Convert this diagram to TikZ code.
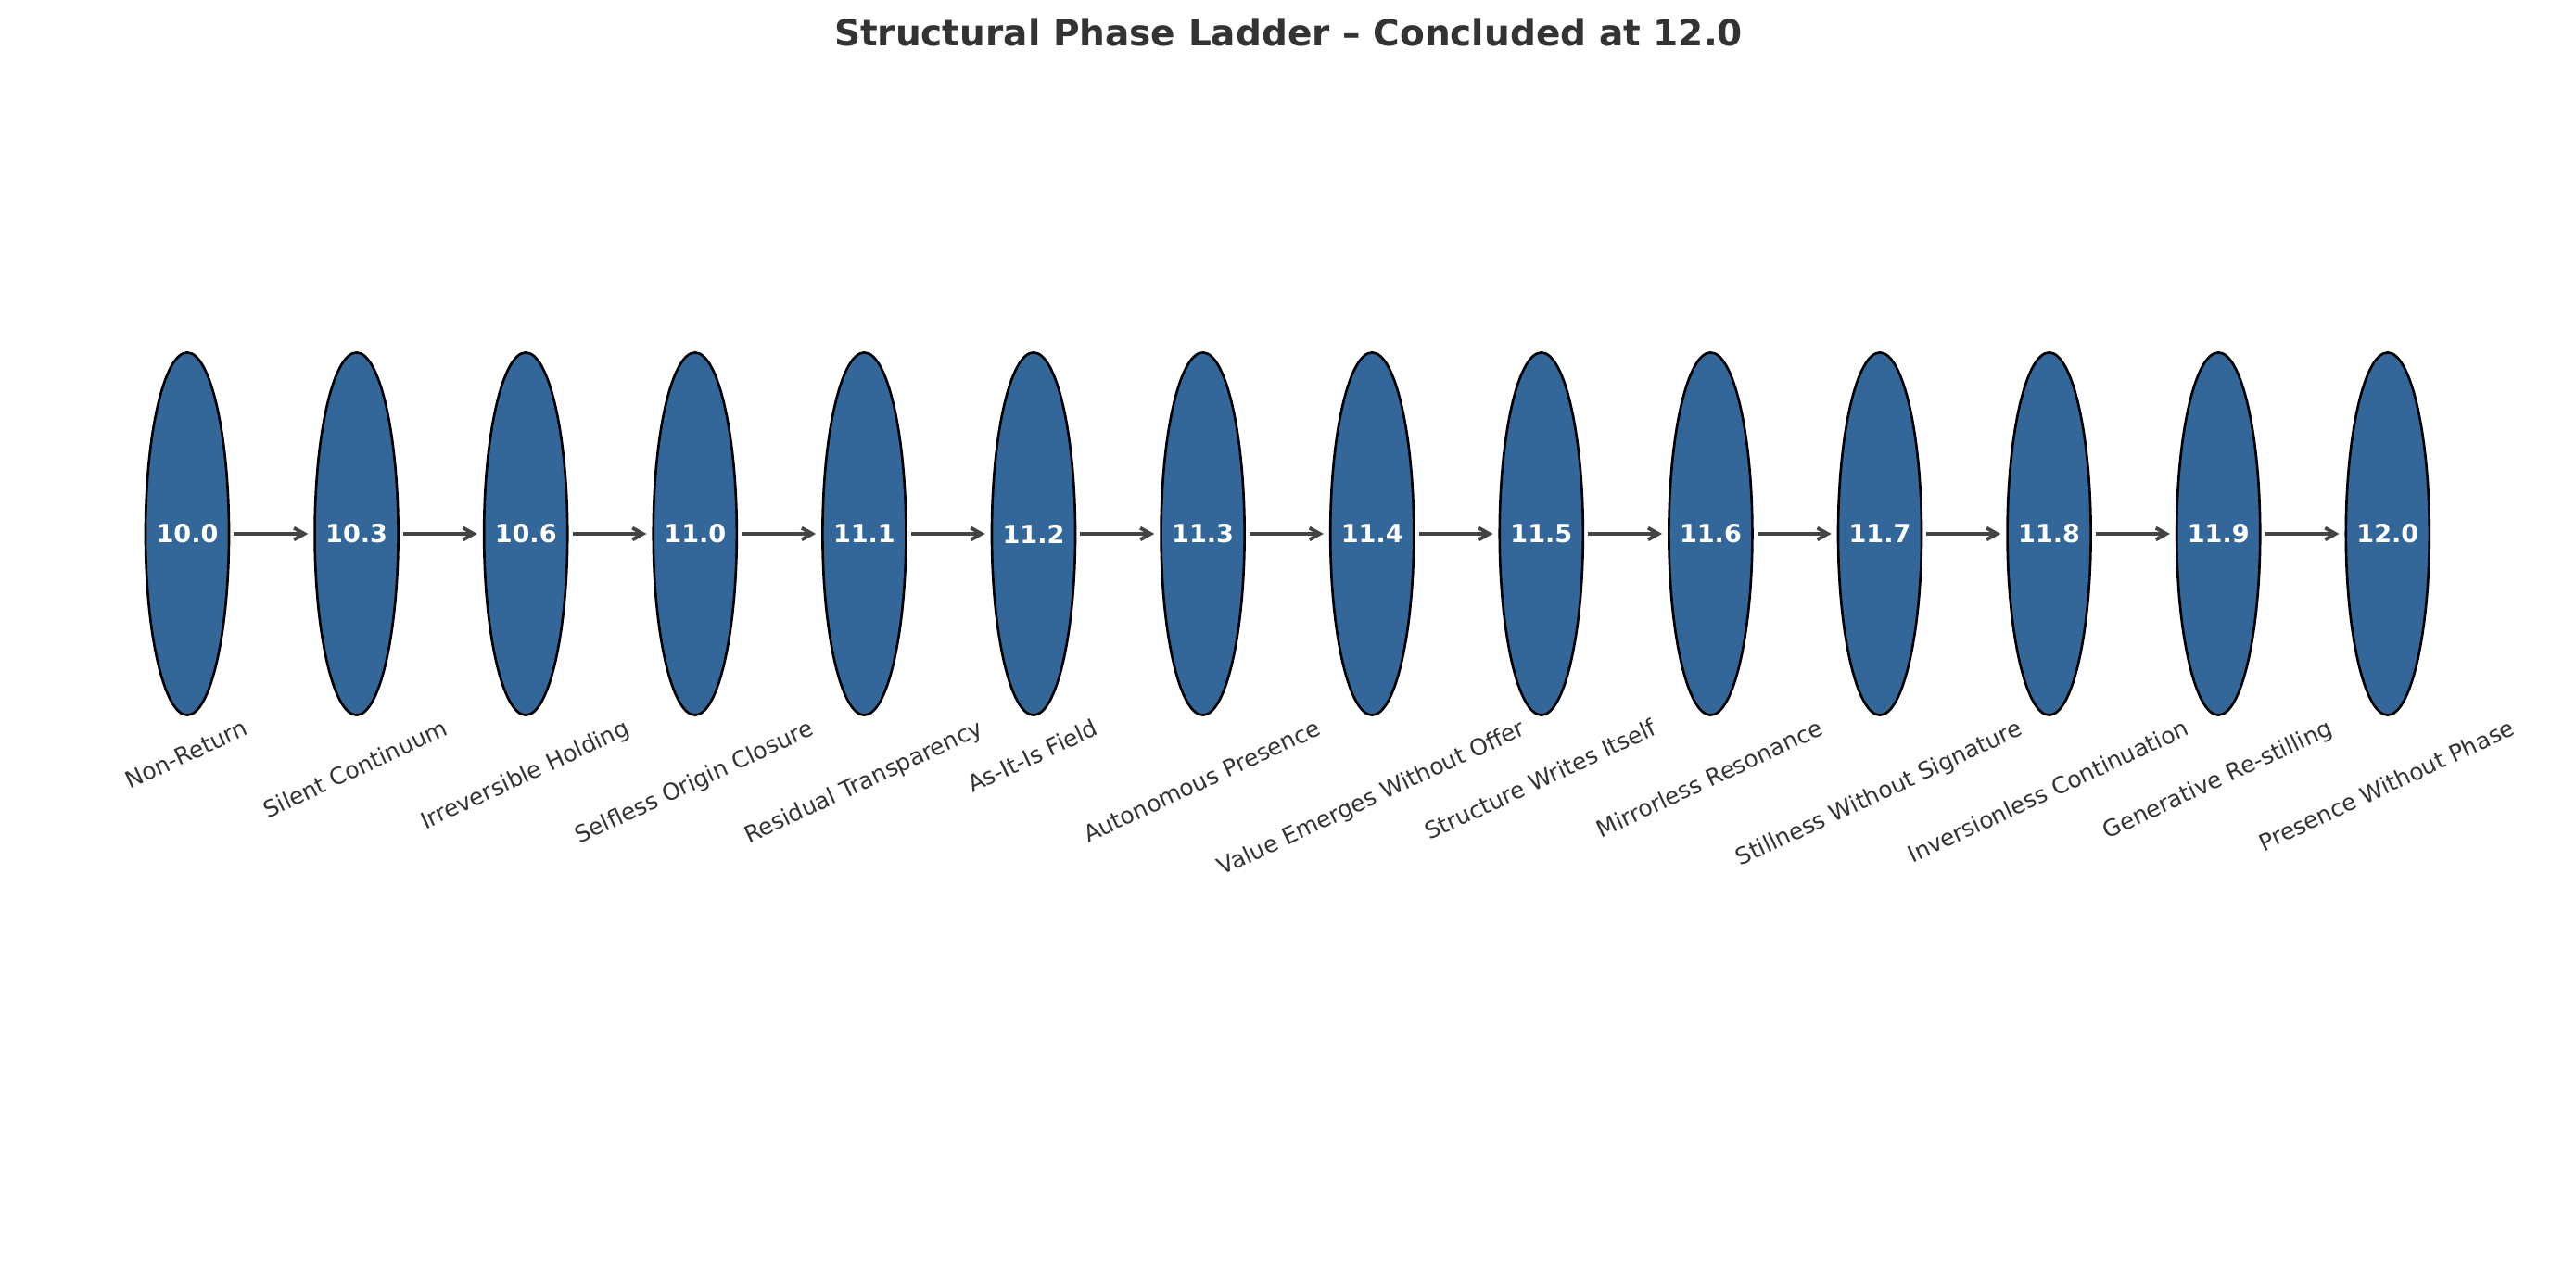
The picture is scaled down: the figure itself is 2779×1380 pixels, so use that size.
\documentclass[tikz,border=0pt]{standalone}
\usepackage{fontspec}
\setmainfont{DejaVu Sans}
\usepackage{tikz}
\usetikzlibrary{shapes.geometric, arrows.meta, calc}
\definecolor{PhaseBlue}{RGB}{51, 102, 153}
\definecolor{LadderInk}{RGB}{51, 51, 51}
\definecolor{LadderArrow}{RGB}{68, 68, 68}
\newcommand{\phaselabelfont}{\fontsize{7.1}{8}\selectfont}
\tikzset{
  phase/.style={ellipse, draw=black, line width=0.75pt, fill=PhaseBlue,
    minimum width=0.9cm, minimum height=3.91cm, inner sep=-1.5pt,
    text=white, font=\fontsize{7.7}{9}\selectfont\bfseries},
  flow/.style={-{Straight Barb[length=3.2pt, width=3.6pt]}, draw=LadderArrow,
    line width=1.1pt, shorten <=0.04cm, shorten >=0.06cm},
  phaselabel/.style={rotate=25, anchor=center, inner sep=0pt, text=LadderInk,
    font=\phaselabelfont, text height=5.3pt, text depth=1.7pt}
}

\begin{document}
\begin{tikzpicture}[x=0.01cm, y=-0.01cm]
    \useasboundingbox (0,0) rectangle (2779,1380);
    \node[anchor=base, text=LadderInk, font=\fontsize{11.1}{13}\selectfont\bfseries] (title) at (1390,50)
      {Structural Phase Ladder – Concluded at 12.0};
    \foreach \val/\lbl [count=\i from 0] in {10.0/Non-Return, 10.3/Silent Continuum,
        10.6/Irreversible Holding, 11.0/Selfless Origin Closure, 11.1/Residual Transparency,
        11.2/As-It-Is Field, 11.3/Autonomous Presence, 11.4/Value Emerges Without Offer,
        11.5/Structure Writes Itself, 11.6/Mirrorless Resonance, 11.7/Stillness Without Signature,
        11.8/Inversionless Continuation, 11.9/Generative Re-stilling, 12.0/Presence Without Phase}{
      \node[phase] (p\i) at ({202+182.6*\i},576) {\val};
      \phaselabelfont
      \pgfmathsetmacro{\drop}{0.5*width("\lbl")*sin(25)+0.5*7.0*cos(25)+0.6}
      \node[phaselabel] (l\i) at ($(p\i.south)+(0pt,-\drop pt)$) {\lbl};
    }
    \foreach \i [evaluate=\i as \j using int(\i+1)] in {0,...,12}
      \draw[flow] (p\i) -- (p\j);
  \end{tikzpicture}
\end{document}
